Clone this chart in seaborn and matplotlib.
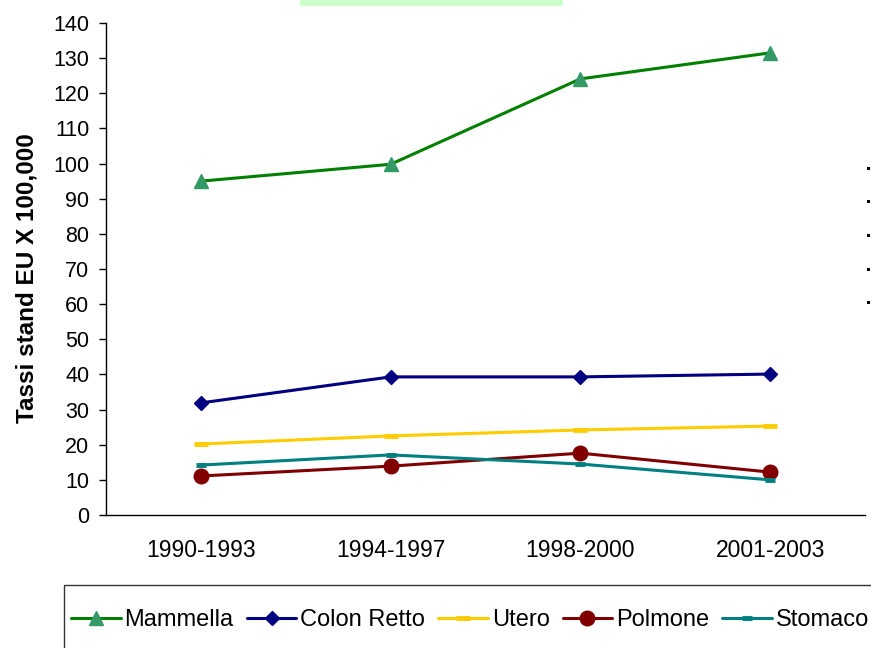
import matplotlib
matplotlib.use("Agg")
import matplotlib.pyplot as plt
import seaborn as sns
import pandas as pd
from matplotlib.patches import Rectangle
from matplotlib.lines import Line2D

sns.set_style("white")
plt.rcParams['font.family'] = ['Liberation Sans', 'DejaVu Sans']
plt.rcParams['text.color'] = 'black'
plt.rcParams['xtick.color'] = 'black'
plt.rcParams['ytick.color'] = 'black'
plt.rcParams['axes.labelcolor'] = 'black'

periods = ["1990-1993", "1994-1997", "1998-2000", "2001-2003"]
mammella = [95.0, 99.8, 124.1, 131.5]
colon_retto = [31.9, 39.3, 39.3, 40.1]
utero = [20.2, 22.5, 24.2, 25.3]
polmone = [11.1, 13.9, 17.6, 12.2]
stomaco = [14.2, 17.1, 14.5, 10.0]

series = [
    ("Mammella", mammella, "#008000", "^", "#339966", 10),
    ("Colon Retto", colon_retto, "#000080", "D", "#000080", 7.5),
    ("Utero", utero, "#FFCC00", "_", "#FFCC00", 10),
    ("Polmone", polmone, "#800000", "o", "#800000", 10.5),
    ("Stomaco", stomaco, "#008080", "_", "#008080", 7),
]

fig = plt.figure(figsize=(8.71, 6.48), dpi=100)
W, H = 871, 648
ax = fig.add_axes([106 / W, 1 - 515 / H, (865 - 106) / W, (515 - 23) / H])

handles = []
for name, vals, col, mk, mfc, ms in series:
    df = pd.DataFrame({"x": list(range(len(periods))), "y": vals})
    mew = 3.5 if mk == "_" else 1
    sns.lineplot(data=df, x="x", y="y", ax=ax, color=col, linewidth=2.2,
                 marker=mk, markersize=ms, markerfacecolor=mfc,
                 markeredgecolor=mfc, markeredgewidth=mew)
    handles.append(Line2D([], [], color=col, linewidth=2.2, marker=mk,
                          markersize=ms, markerfacecolor=mfc, markeredgecolor=mfc,
                          markeredgewidth=mew, label=name))

ax.set_xlim(-0.5, 3.5)
ax.set_ylim(0, 140)
ax.set_yticks(range(0, 141, 10))
ax.set_xticks(range(4))
ax.set_xticklabels(periods)
ax.set_xticks([-0.5, 0.5, 1.5, 2.5, 3.5], minor=True)
ax.tick_params(axis="x", which="major", length=0, labelsize=16.5, pad=17)
ax.tick_params(axis="x", which="minor", length=5, width=1, color="black", direction="out")
ax.tick_params(axis="y", length=5, width=1, color="black", direction="out",
               labelsize=15.5, left=True, pad=7)
for s in ["top", "right"]:
    ax.spines[s].set_visible(False)
for s in ["left", "bottom"]:
    ax.spines[s].set_color("black")
    ax.spines[s].set_linewidth(1)
ax.set_xlabel("")
ax.set_ylabel("Tassi stand EU X 100,000", fontsize=17.5, fontweight="bold")
ax.yaxis.set_label_coords(-(106 - 27) / (865 - 106), (515 - 278) / (515 - 23))
ax.yaxis.label.set_verticalalignment("center")

# green header rectangle
fig.patches.append(Rectangle((300 / W, 1 - 6 / H), (563 - 300) / W, 6 / H,
                             transform=fig.transFigure, facecolor="#CCFFCC",
                             edgecolor="none"))
# small marks on the right
for yy in [168, 201, 235, 269, 302]:
    fig.patches.append(Rectangle((867 / W, 1 - (yy + 1.5) / H), 3 / W, 3 / H,
                                 transform=fig.transFigure, facecolor="black",
                                 edgecolor="none"))
# legend frame
fig.patches.append(Rectangle((64 / W, -0.05), 1.0, 1 - 585 / H + 0.05,
                             transform=fig.transFigure, facecolor="white",
                             edgecolor="#333333", linewidth=1))
leg = fig.legend(handles=handles, loc="center left",
                 bbox_to_anchor=(71 / W, 1 - 620 / H), ncol=5, frameon=False,
                 fontsize=17, handlelength=2.1, handletextpad=0.17,
                 columnspacing=0.55, borderaxespad=0, borderpad=0)

fig.savefig("out.png", dpi=100)
